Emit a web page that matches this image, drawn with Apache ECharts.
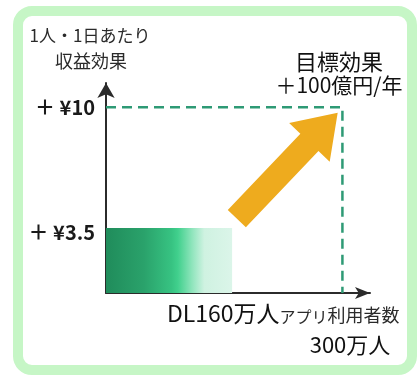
<!DOCTYPE html>
<html>
<head>
<meta charset="utf-8">
<script src="https://cdn.jsdelivr.net/npm/echarts@6/dist/echarts.min.js"></script>
<style>
  html, body { margin: 0; padding: 0; background: #fff; }
  #chart { width: 419px; height: 377px; }
</style>
</head>
<body>
<div id="chart"></div>
<script>
// 1人・1日あたり収益効果 と アプリ利用者数
const yTicks = [3.5, 10];        // 収益効果 (円 / 人・日)
const users = [160, 300];        // 利用者数 (万人): 現在のDL数, 目標
const current = [160, 3.5];      // 現状: [利用者数, 収益効果]
const target = [300, 10];        // 目標: [利用者数, 収益効果]
const targetAnnual = 100;        // 目標効果 (億円/年)
const arrowFrom = [166, 4.0];    // 成長矢印の始点
const arrowTo = [294, 9.7];      // 成長矢印の先端
const xMax = 335, yMax = 11.3;

const FONT = '"Noto Sans CJK JP", "Noto Sans", sans-serif';
const chart = echarts.init(document.getElementById('chart'));

const axisLine = { show: true, lineStyle: { color: '#2b2b2b', width: 2 } };

chart.setOption({
  animation: false,
  backgroundColor: '#ffffff',
  grid: { left: 106, right: 49, top: 83, bottom: 84 },
  xAxis: {
    type: 'value', min: 0, max: xMax,
    axisLine: Object.assign({ symbol: ['none', 'arrow'], symbolSize: [9, 15] }, axisLine),
    axisTick: { show: false }, axisLabel: { show: false }, splitLine: { show: false }
  },
  yAxis: {
    type: 'value', min: 0, max: yMax,
    axisLine: Object.assign({ symbol: ['none', 'arrow'], symbolSize: [13, 15] }, axisLine),
    axisTick: { show: false }, splitLine: { show: false },
    axisLabel: {
      customValues: yTicks,
      margin: 11,
      color: '#1a1a1a',
      fontFamily: FONT, fontSize: 20, fontWeight: 'bold',
      formatter: v => v < 5 ? '{lo|＋ ¥' + v + '}' : '＋ ¥' + v,
      rich: { lo: { fontFamily: FONT, fontSize: 20, fontWeight: 'bold', color: '#1a1a1a', padding: [9, 0, 0, 0] } }
    }
  },
  series: [
    {
      // 現状の収益 (0 〜 160万人 × ¥3.5)
      type: 'custom',
      data: [[0, current[0], current[1]]],
      z: 2,
      renderItem: (params, api) => {
        const tl = api.coord([api.value(0), api.value(2)]);
        const br = api.coord([api.value(1), 0]);
        return {
          type: 'rect',
          shape: { x: tl[0], y: tl[1], width: br[0] - tl[0], height: br[1] - tl[1] },
          style: {
            fill: new echarts.graphic.LinearGradient(0, 0, 1, 0, [
              { offset: 0, color: '#208c5b' },
              { offset: 0.3, color: '#2aa26b' },
              { offset: 0.52, color: '#37c382' },
              { offset: 0.57, color: '#41d08d' },
              { offset: 0.69, color: '#94e6bf' },
              { offset: 0.78, color: '#cff2e1' },
              { offset: 1, color: '#dbf5e9' }
            ])
          }
        };
      }
    },
    {
      // 目標ライン
      type: 'line',
      data: [[0, target[1]], [target[0], target[1]], [target[0], 0]],
      symbol: 'none',
      z: 1,
      lineStyle: { color: '#2e9a75', width: 2.5, type: [10, 6] }
    },
    {
      // 成長矢印
      type: 'custom',
      data: [[arrowFrom[0], arrowFrom[1], arrowTo[0], arrowTo[1]]],
      z: 3,
      renderItem: (params, api) => {
        const p0 = api.coord([api.value(0), api.value(1)]);
        const p1 = api.coord([api.value(2), api.value(3)]);
        const dx = p1[0] - p0[0], dy = p1[1] - p0[1];
        const L = Math.hypot(dx, dy);
        const ux = dx / L, uy = dy / L, nx = -uy, ny = ux;
        const sw = 12.5, hw = 28, hl = 41;
        const bx = p1[0] - ux * hl, by = p1[1] - uy * hl;
        const pts = [
          [p0[0] + nx * sw, p0[1] + ny * sw],
          [bx + nx * sw, by + ny * sw],
          [bx + nx * hw, by + ny * hw],
          [p1[0], p1[1]],
          [bx - nx * hw, by - ny * hw],
          [bx - nx * sw, by - ny * sw],
          [p0[0] - nx * sw, p0[1] - ny * sw]
        ];
        return { type: 'polygon', shape: { points: pts }, style: { fill: '#eeab1e' } };
      }
    }
  ],
  graphic: [
    {
      type: 'rect', z: -1,
      shape: { x: 18, y: 11, width: 394, height: 359, r: 14 },
      style: { fill: 'none', stroke: '#c6f6c6', lineWidth: 10 }
    },
    { type: 'text', x: 90, y: 36, style: { text: '1人・1日あたり', font: '17px ' + FONT, fill: '#2a2a2a', align: 'center', verticalAlign: 'middle' } },
    { type: 'text', x: 91, y: 61, style: { text: '収益効果', font: '18px ' + FONT, fill: '#2a2a2a', align: 'center', verticalAlign: 'middle' } },
    { type: 'text', x: 339, y: 62, style: { text: '目標効果', font: '22px ' + FONT, fill: '#111', align: 'center', verticalAlign: 'middle' } },
    { type: 'text', x: 339, y: 85, style: { text: '＋' + targetAnnual + '億円/年', font: '21px ' + FONT, fill: '#111', align: 'center', verticalAlign: 'middle' } },
    {
      type: 'text', x: 167, y: 313,
      style: {
        text: '{a|DL' + users[0] + '万人}{b|アプリ}{c|利用者数}',
        align: 'left', verticalAlign: 'middle',
        rich: {
          a: { font: '23px ' + FONT, fill: '#111', verticalAlign: 'bottom' },
          b: { font: '16px ' + FONT, fill: '#2a2a2a', verticalAlign: 'bottom' },
          c: { font: '18px ' + FONT, fill: '#2a2a2a', verticalAlign: 'bottom' }
        }
      }
    },
    { type: 'text', x: 350, y: 345, style: { text: users[1] + '万人', font: '22px ' + FONT, fill: '#111', align: 'center', verticalAlign: 'middle' } }
  ]
});
</script>
</body>
</html>
